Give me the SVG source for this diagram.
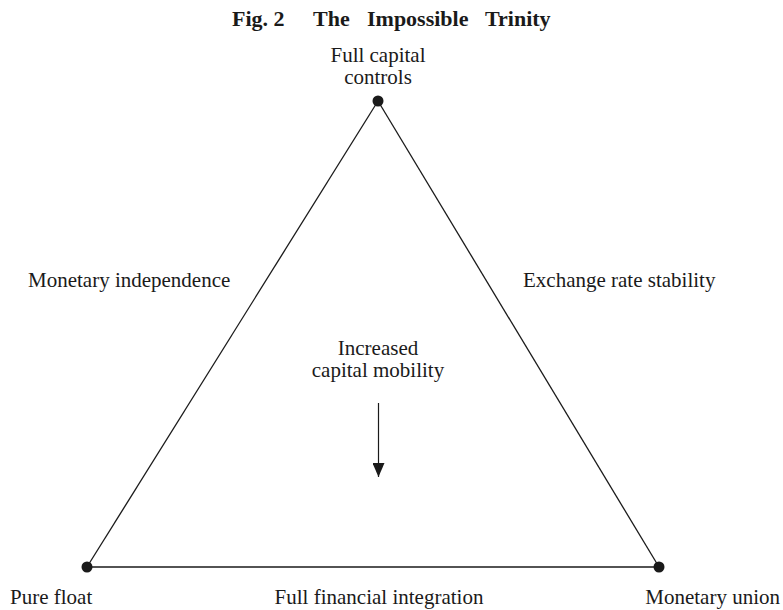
<svg xmlns="http://www.w3.org/2000/svg" width="783" height="610" viewBox="0 0 783 610">
<style>
text{font-family:"Liberation Serif","Times New Roman",serif;font-size:21px;fill:#1a1a1a}
.title{font-size:22px;font-weight:bold}
.edge{stroke:#1a1a1a;stroke-width:1.3;fill:none}
.dot{fill:#1a1a1a}
</style>
<defs>
<marker id="ah" markerWidth="14" markerHeight="12" refX="14" refY="6" orient="auto" markerUnits="userSpaceOnUse" viewBox="0 0 14 12">
<path d="M0,0 L14,6 L0,12 Z" fill="#1a1a1a"/>
</marker>
</defs>
<rect width="783" height="610" fill="#fff"/>
<g id="title">
<text class="title" x="232" y="26">Fig. 2</text>
<text class="title" x="313" y="26">The</text>
<text class="title" x="367" y="26">Impossible</text>
<text class="title" x="485" y="26">Trinity</text>
</g>
<g id="connectors">
<line class="edge" x1="378" y1="101" x2="87" y2="567"/>
<line class="edge" x1="378" y1="101" x2="659" y2="567"/>
<line class="edge" x1="87" y1="567" x2="659" y2="567"/>
<line class="edge" x1="378.5" y1="403" x2="378.5" y2="477" marker-end="url(#ah)" style="stroke-width:1.2"/>
</g>
<g id="node-top">
<circle class="dot" cx="378" cy="101" r="5.5"/>
<text x="378" y="62" text-anchor="middle">Full capital</text>
<text x="378" y="84" text-anchor="middle">controls</text>
</g>
<g id="node-left">
<circle class="dot" cx="87" cy="567" r="5.5"/>
<text x="10" y="604">Pure float</text>
</g>
<g id="node-right">
<circle class="dot" cx="659" cy="567" r="5.5"/>
<text x="780" y="604" text-anchor="end">Monetary union</text>
</g>
<g id="labels">
<text x="28" y="287">Monetary independence</text>
<text x="523" y="287">Exchange rate stability</text>
<text x="379" y="604" text-anchor="middle">Full financial integration</text>
<text x="378" y="355" text-anchor="middle">Increased</text>
<text x="378" y="377" text-anchor="middle">capital mobility</text>
</g>
</svg>
